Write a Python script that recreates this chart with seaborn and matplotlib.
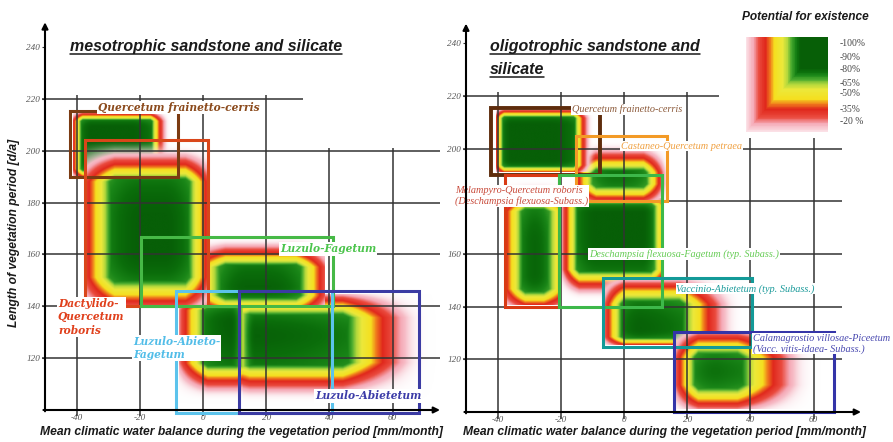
import numpy as np
import matplotlib
matplotlib.use("Agg")
import matplotlib.pyplot as plt
import seaborn as sns
from matplotlib.colors import LinearSegmentedColormap
from matplotlib.patches import Rectangle
from matplotlib.lines import Line2D

# ---------------------------------------------------------------- data
x_ticks = [-40, -20, 0, 20, 40, 60]
y_ticks = [120, 140, 160, 180, 200, 220, 240]

# mesotrophic sandstone and silicate
meso_names = ["Quercetum frainetto-cerris", "Dactylido-\nQuercetum\nroboris",
              "Luzulo-Fagetum", "Luzulo-Abieto-\nFagetum", "Luzulo-Abietetum"]
# outlined climatic range (x0, x1, y0, y1)
meso_boxes = [(-42, -8, 190, 215.3), (-37.2, 1.5, 140, 204), (-19.7, 41, 140, 166.6),
              (-8.4, 40.7, 99, 145.8), (11.3, 68.5, 99, 145.8)]
# extent of the potential field (x0, x1, y0, y1)
meso_fields = [(-41, -9.5, 190, 214.5), (-37, 1.5, 140, 204), (0, 38.5, 140, 168),
               (-7.5, 12.5, 102, 143.5), (12.5, 74, 101, 144.5)]
# falloff width towards left, right, bottom, top edge
meso_falloff = [(3, 7, 3, 3), (9, 7, 11, 16), (7, 9, 4, 13), (9, 2, 16, 5), (2, 30, 17, 9)]
# potential reached directly at left, right, bottom, top edge
meso_edges = [(0.35, 0.0, 0.4, 0.3), (0.35, 0.35, 0.3, 0.0), (0.55, 0.3, 0.6, 0.0),
              (0.25, 0.9, 0.0, 0.35), (0.9, 0.0, 0.0, 0.2)]

# oligotrophic sandstone and silicate
oligo_names = ["Quercetum frainetto-cerris", "Castaneo-Quercetum petraea",
               "Melampyro-Quercetum roboris\n(Deschampsia flexuosa-Subass.)",
               "Deschampsia flexuosa-Fagetum (typ. Subass.)",
               "Vaccinio-Abietetum (typ. Subass.)",
               "Calamagrostio villosae-Piceetum\n(Vacc. vitis-idaea- Subass.)"]
oligo_boxes = [(-42, -7.7, 190, 215.4), (-15.3, 13.5, 180, 204.8), (-37.8, -20.5, 140, 190),
               (-20.7, 12, 140, 190), (-6.8, 40.4, 124.7, 151), (15.7, 66.3, 100, 130.4)]
oligo_fields = [(-40.5, -9, 191, 214.5), (-15, 13, 180.5, 204), (-37.5, -20.5, 140.5, 189),
                (-20.3, 11.5, 141, 181), (-6, 39.5, 125.5, 150), (16.5, 63, 101, 129.5)]
oligo_falloff = [(2.5, 7, 2.5, 3), (6, 7, 6, 13), (6, 5, 6, 13), (6, 3, 13, 3),
                 (6, 22, 3, 9), (7, 27, 9, 9)]
oligo_edges = [(0.4, 0.0, 0.45, 0.3), (0.35, 0.15, 0.35, 0.0), (0.4, 0.6, 0.4, 0.0),
               (0.15, 0.6, 0.0, 0.6), (0.3, 0.0, 0.4, 0.2), (0.3, 0.0, 0.25, 0.25)]

legend_levels = ["-100%", "-90%", "-80%", "-65%", "-50%", "-35%", "-20 %"]

# ---------------------------------------------------------------- styling
meso_box_colors = ["#7b3b12", "#d9461a", "#46b946", "#5cc3ec", "#3b3ba3"]
meso_text_colors = ["#8b4a1c", "#e0401c", "#4cc44c", "#52bde8", "#3c3ca8"]
meso_order = [3, 4, 2, 0, 1]
meso_label_pos = [(-33.2, 216.5), (-45.9, 135.9), (24.4, 162.1), (-22.2, 123.9), (35.4, 105.4)]

oligo_box_colors = ["#5e2c0c", "#f39a26", "#d83a14", "#3db84a", "#139a98", "#3434a8"]
oligo_text_colors = ["#8c5a3a", "#f0a040", "#c84a3a", "#66cc55", "#1a9a9a", "#4848b0"]
oligo_order = [3, 2, 1, 0, 4, 5]
oligo_label_pos = [(-16.4, 214.9), (-1.0, 201.0), (-53.5, 182.0), (-11.1, 160.0),
                   (16.6, 146.8), (40.8, 125.9)]

W, H = 893, 442
sns.set_theme(style="white")
plt.rcParams["font.family"] = ["DejaVu Sans"]

cmap = LinearSegmentedColormap.from_list("potential", [
    (0.00, "#ffffff"), (0.10, "#fbe3e8"), (0.22, "#f5a9b6"), (0.31, "#ea4a3e"),
    (0.42, "#e0281c"), (0.50, "#f07c1c"), (0.57, "#f5df1f"), (0.70, "#ece83a"),
    (0.78, "#b4d83c"), (0.85, "#4bab2f"), (0.91, "#1a8618"), (0.96, "#0b6e0b"),
    (1.00, "#075f07")])

SANS = "Liberation Sans"
SERIF_BOLD = "DejaVu Serif"
SERIF = "Liberation Serif"


def potential(bounds, falloff, edge, step=0.2):
    x0, x1, y0, y1 = bounds
    xs = np.linspace(x0, x1, int((x1 - x0) / step) + 1)
    ys = np.linspace(y0, y1, int((y1 - y0) / step) + 1)
    X, Y = np.meshgrid(xs, ys)
    outer = np.ones_like(X)
    core = np.ones_like(X)
    for d, w, e in zip((X - x0, x1 - X, Y - y0, y1 - Y), falloff, edge):
        f = np.clip(d / w, 0, 1)
        outer *= e + (1 - e) * (f ** 1.6 if e == 0 else f)
        # the green core darkens gradually towards the optimum
        g = np.clip(d / (2 * w), 0, 1)
        core *= 1 - (1 - g) ** 2
    return np.minimum(outer, 0.78 + 0.22 * core)


def draw_field(ax, bounds, falloff, edge):
    p = potential(bounds, falloff, edge)
    rgba = cmap(p)
    rgba[..., 3] = np.clip(p / 0.18, 0, 1)
    ax.imshow(rgba, origin="lower", extent=bounds, aspect="auto",
              interpolation="bilinear", zorder=1)


def setup_axes(ax, h220_end, h_end, v_short_top, arrow_top):
    grid_kw = dict(color="#333333", lw=1.1, zorder=2)
    ax.hlines(220, -51, h220_end, **grid_kw)
    ax.hlines([200, 180, 160, 140, 120], -51, h_end, **grid_kw)
    ax.vlines([-40, -20, 0, 20], 97.5, 221.5, **grid_kw)
    ax.vlines([40, 60], 97.5, v_short_top, **grid_kw)
    for coll in ax.collections:
        coll.set_clip_on(False)
    arrow = dict(arrowstyle="-|>", color="black", lw=1.5, mutation_scale=9,
                 shrinkA=0, shrinkB=0)
    ax.annotate("", xy=(75, 100), xytext=(-50.5, 100), arrowprops=arrow,
                annotation_clip=False, zorder=5)
    ax.annotate("", xy=(-50, arrow_top), xytext=(-50, 99.5), arrowprops=arrow,
                annotation_clip=False, zorder=5)
    ax.set_xlim(-50, 75)
    ax.set_ylim(100, 250)
    ax.set_xticks(x_ticks)
    ax.set_xticklabels([str(v) for v in x_ticks])
    ax.set_yticks(y_ticks)
    ax.set_yticklabels([str(v) for v in y_ticks])
    ax.tick_params(axis="x", length=0, pad=3)
    ax.tick_params(axis="y", length=2.5, width=0.8, color="#333333", pad=1, left=True)
    for lab in ax.get_xticklabels() + ax.get_yticklabels():
        lab.set_fontfamily(SERIF)
        lab.set_fontstyle("italic")
        lab.set_fontsize(6.6)
        lab.set_color("#555555")
    for s in ax.spines.values():
        s.set_visible(False)
    ax.set_facecolor("none")


fig = plt.figure(figsize=(W / 100, H / 100), dpi=100)
fig.patch.set_facecolor("white")

ax1 = fig.add_axes([45 / W, 1 - 410 / H, 395 / W, 389 / H])
ax2 = fig.add_axes([466 / W, 1 - 412 / H, 395 / W, 395 / H])

# ---------------------------------------------------------------- left panel
for i in meso_order:
    draw_field(ax1, meso_fields[i], meso_falloff[i], meso_edges[i])
setup_axes(ax1, 31.5, 75, 201, 249.5)
for i, (x0, x1, y0, y1) in enumerate(meso_boxes):
    ax1.add_patch(Rectangle((x0, y0), x1 - x0, y1 - y0, fill=False,
                            ec=meso_box_colors[i], lw=2.2, zorder=3, clip_on=False))
for i, name in enumerate(meso_names):
    x, y = meso_label_pos[i]
    ax1.text(x, y, name, ha="left", va="center", color=meso_text_colors[i],
             fontfamily=SERIF_BOLD, fontweight="bold", fontstyle="italic",
             fontsize=7.7, linespacing=1.25, zorder=4, clip_on=False,
             bbox=dict(facecolor="white", edgecolor="none", pad=0.8))

# ---------------------------------------------------------------- right panel
for i in oligo_order:
    draw_field(ax2, oligo_fields[i], oligo_falloff[i], oligo_edges[i])
setup_axes(ax2, 30, 69, 204, 247.5)
# the 180 mark on this axis lies under the Melampyro label
ax2.get_yticklabels()[3].set_visible(False)
for i, (x0, x1, y0, y1) in enumerate(oligo_boxes):
    ax2.add_patch(Rectangle((x0, y0), x1 - x0, y1 - y0, fill=False,
                            ec=oligo_box_colors[i], lw=2.8 if i == 0 else 2.2,
                            zorder=3, clip_on=False))
for i, name in enumerate(oligo_names):
    x, y = oligo_label_pos[i]
    ax2.text(x, y, name, ha="left", va="center", color=oligo_text_colors[i],
             fontfamily=SERIF, fontstyle="italic", fontsize=7.4, linespacing=1.15,
             zorder=4, clip_on=False,
             bbox=dict(facecolor="white", edgecolor="none", pad=0.6))

# ---------------------------------------------------------------- titles
title_kw = dict(fontfamily=SANS, fontweight="bold", fontstyle="italic",
                fontsize=11.5, color="#1a1a1a", ha="left", va="baseline")
titles = [(70, 50.5, "mesotrophic sandstone and silicate"),
          (490, 50.5, "oligotrophic sandstone and"),
          (490, 73.5, "silicate")]
title_artists = [(fig.text(x / W, 1 - y / H, s, **title_kw), y) for x, y, s in titles]

axis_kw = dict(fontfamily=SANS, fontweight="bold", fontstyle="italic",
               fontsize=8.7, color="#1a1a1a", ha="center", va="center")
fig.text(14 / W, 1 - 233 / H, "Length of vegetation period [d/a]", rotation=90, **axis_kw)
xlabel = "Mean climatic water balance during the vegetation period [mm/month]"
fig.text(241 / W, 1 - 432 / H, xlabel, **axis_kw)
fig.text(664 / W, 1 - 432 / H, xlabel, **axis_kw)

# ---------------------------------------------------------------- legend
fig.text(805 / W, 1 - 17 / H, "Potential for existence", fontfamily=SANS,
         fontweight="bold", fontstyle="italic", fontsize=8.6, color="#1a1a1a",
         ha="center", va="center")
lax = fig.add_axes([746 / W, 1 - 132 / H, 82 / W, 95 / H])
n = 120
u = (np.arange(n) + 0.5) / n
U, V = np.meshgrid(u, u[::-1])
swatch = np.clip(0.1 + 1.35 * np.minimum(U, V), 0, 1)
sns.heatmap(swatch, ax=lax, cmap=cmap, vmin=0, vmax=1, cbar=False,
            xticklabels=False, yticklabels=False, rasterized=True)
lax.set_axis_off()
for lvl, py in zip(legend_levels, [43, 57, 70, 83, 94, 109, 122]):
    fig.text(840 / W, 1 - py / H, lvl, fontfamily=SERIF, fontsize=6.9,
             color="#444444", ha="left", va="center")

# underline the panel titles
fig.canvas.draw()
renderer = fig.canvas.get_renderer()
for t, y in title_artists:
    bb = t.get_window_extent(renderer)
    fig.add_artist(Line2D([bb.x0 / W, bb.x1 / W], [1 - (y + 3) / H] * 2,
                          color="#1a1a1a", lw=1.1, transform=fig.transFigure))

fig.savefig("out.png", dpi=100, facecolor="white")
